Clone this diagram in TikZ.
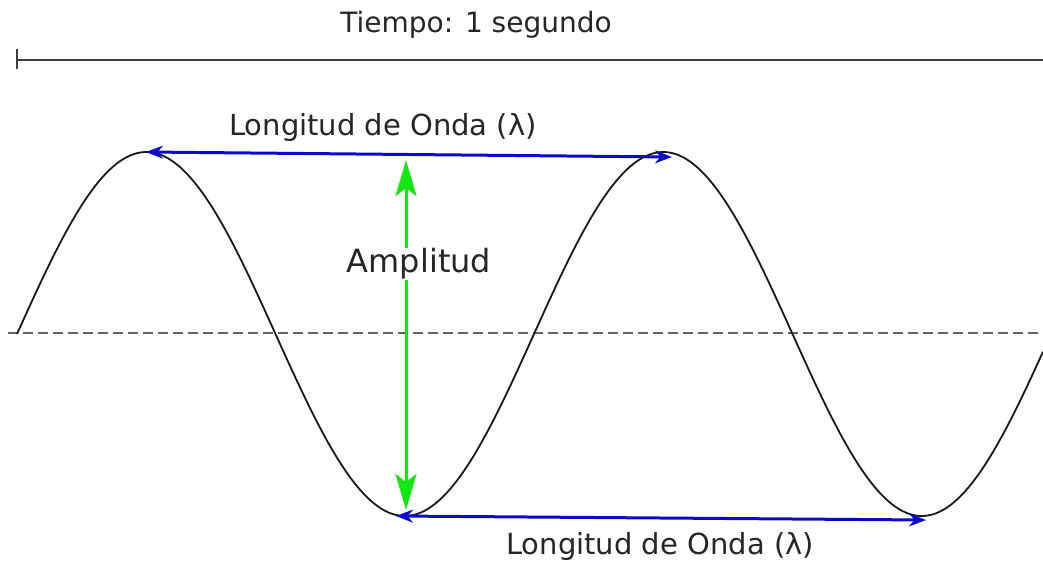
\documentclass[tikz,border=0pt]{standalone}
\usepackage{fontspec}
\setmainfont{DejaVu Sans}
\usetikzlibrary{arrows.meta}
\definecolor{wblue}{RGB}{10,10,200}
\definecolor{wgreen}{RGB}{20,230,20}
\definecolor{axisgray}{RGB}{60,60,60}
\begin{document}
\begin{tikzpicture}[x=1pt,y=-1pt,
  lbl/.style={font=\fontsize{29}{34}\selectfont, text=black!85, inner sep=1pt},
  bluearrow/.style={draw=wblue, line width=3pt, {Stealth[length=17pt,width=13pt]}-{Stealth[length=17pt,width=13pt]}},
  greenarrow/.style={draw=wgreen, line width=3pt, {Stealth[length=36pt,width=21pt,inset=8pt]}-{Stealth[length=36pt,width=21pt,inset=8pt]}},
  wave/.style={draw=black!90, line width=1.8pt},
  midline/.style={draw=black!60, line width=1.8pt, dash pattern=on 10pt off 5pt},
  timeline/.style={draw=axisgray, line width=2pt}]
\useasboundingbox (0,0) rectangle (1043,560);
% time line
\coordinate (tl) at (17,60);
\coordinate (tr) at (1043,60);
\coordinate (tickt) at (17,49);
\coordinate (tickb) at (17,69);
\draw[timeline] (tl) -- (tr);
\draw[timeline] (tickt) -- (tickb);
\node[lbl, font=\fontsize{28}{32}\selectfont] (tiempo) at (476,25) {Tiempo: 1 segundo};
% midline
\coordinate (ml) at (8,333);
\coordinate (mr) at (1043,333);
\draw[midline] (ml) -- (mr);
% wave
\draw[wave] plot[domain=17:1043, samples=300] (\x, {334 - 182*sin(((\x-17)/517)*360)});
% key points
\coordinate (p1) at (146,152);
\coordinate (p2) at (672,157);
\coordinate (t1) at (396,516);
\coordinate (t2) at (926,520);
\coordinate (atop) at (406,160);
\coordinate (abot) at (406,510);
% arrows
\draw[bluearrow] (p1) -- (p2);
\draw[greenarrow] (atop) -- (abot);
\draw[bluearrow] (t1) -- (t2);
% labels
\node[lbl] (lam1) at (383,127) {Longitud de Onda (λ)};
\node[lbl, fill=white, font=\fontsize{32}{36}\selectfont] (amp) at (419,264) {Amplitud};
\node[lbl] (lam2) at (660,546) {Longitud de Onda (λ)};
\end{tikzpicture}
\end{document}
